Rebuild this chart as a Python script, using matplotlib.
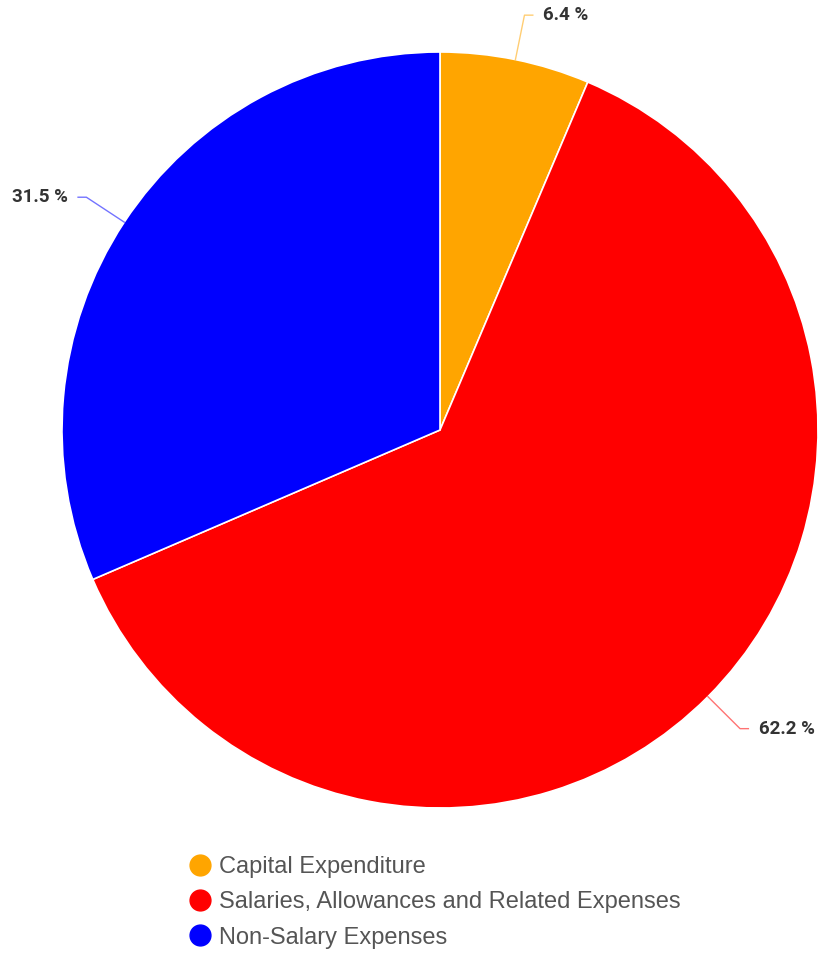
import numpy as np
import matplotlib
matplotlib.use("Agg")
import matplotlib.pyplot as plt
from matplotlib.lines import Line2D

labels = ['Capital Expenditure', 'Salaries, Allowances and Related Expenses', 'Non-Salary Expenses']
values = [6.4, 62.2, 31.5]
colors = ['#ffa500', '#ff0000', '#0000ff']

W, H = 821, 955
fig = plt.figure(figsize=(W / 100, H / 100), dpi=100)

cx, cy, r = 440, 430, 378
ax = fig.add_axes([(cx - r) / W, (H - cy - r) / H, 2 * r / W, 2 * r / H])

wedges, _ = ax.pie(values, colors=colors, startangle=90, counterclock=False,
                   radius=1, wedgeprops=dict(edgecolor='white', linewidth=1.2))
ax.set_xlim(-1, 1)
ax.set_ylim(-1, 1)
ax.set_aspect('equal')
ax.axis('off')

# leader lines + labels
for w, v, c in zip(wedges, values, colors):
    ang = np.deg2rad((w.theta1 + w.theta2) / 2)
    x0, y0 = np.cos(ang), np.sin(ang)
    x1, y1 = 1.12 * x0, 1.12 * y0
    side = 1 if x0 >= 0 else -1
    x2 = x1 + side * 0.022
    ax.plot([x0, x1, x2], [y0, y1, y1], color=c, alpha=0.55, lw=1, clip_on=False)
    ax.text(x2 + side * 0.028, y1, '%.1f %%' % v, ha='left' if side > 0 else 'right',
            va='center', fontsize=13.5, fontweight='bold', color='#333333',
            family='Roboto')

handles = [Line2D([], [], marker='o', ls='', markersize=15, markerfacecolor=c,
                  markeredgecolor=c) for c in colors]
fig.legend(handles, labels, loc='upper left', bbox_to_anchor=(176 / W, 1 - 844 / H),
           frameon=False, labelcolor='#555555', handletextpad=0.32,
           labelspacing=0.57, handlelength=1.0, borderpad=0,
           prop={'family': 'Liberation Sans', 'size': 17})

fig.savefig('out.png', dpi=100)
